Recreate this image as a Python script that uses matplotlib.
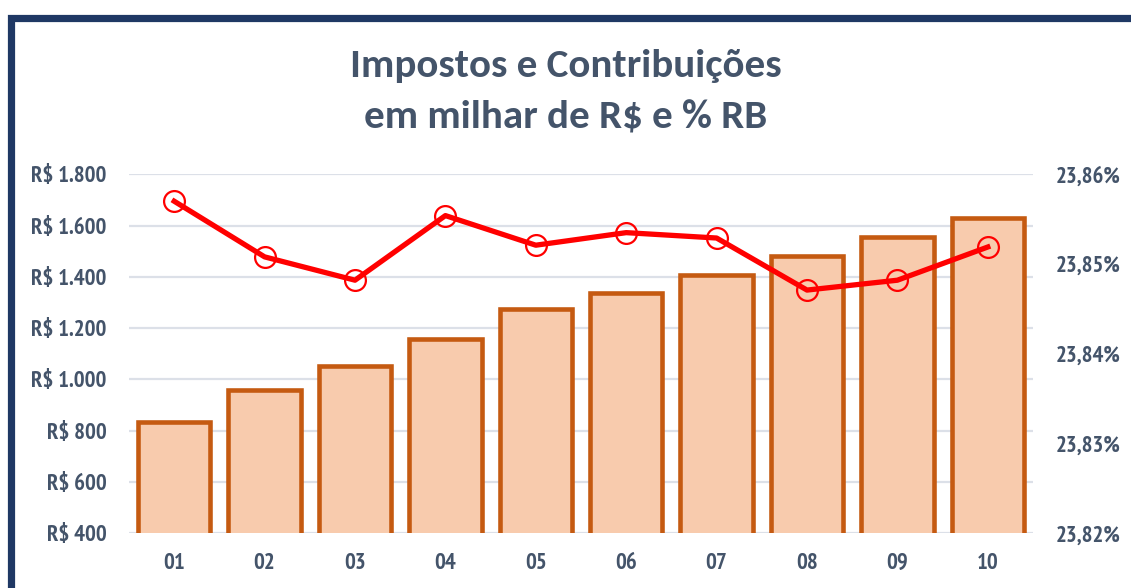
import matplotlib
matplotlib.use("Agg")
import matplotlib.pyplot as plt
from matplotlib import font_manager
from matplotlib.patches import Rectangle
from matplotlib.ticker import FuncFormatter, MultipleLocator

categories = ["01", "02", "03", "04", "05", "06", "07", "08", "09", "10"]
impostos = [834, 960, 1051, 1158, 1275, 1338, 1409, 1480, 1555, 1630]
pct_rb = [23.8570, 23.8508, 23.8482, 23.8554, 23.8521, 23.8535, 23.8529, 23.8471, 23.8482, 23.8519]
title_lines = ["Impostos e Contribuições", "em milhar de R$ e % RB"]

bold_names = {f.name for f in font_manager.fontManager.ttflist
              if isinstance(f.weight, int) and f.weight >= 600}
all_names = {f.name for f in font_manager.fontManager.ttflist}


def pick(cands):
    for c, s in cands:
        if c in bold_names:
            return c, s
    return cands[-1]


tick_font, tick_size = pick([("Liberation Sans Narrow", 16), ("Arial Narrow", 16),
                             ("Archivo Narrow", 16), ("PT Sans Narrow", 16.5),
                             ("Roboto Condensed", 15.5), ("Open Sans Condensed", 15),
                             ("Liberation Sans", 12.5)])
title_font, title_size = pick([("Carlito", 29.5), ("Calibri", 29.5), ("Open Sans", 25)])

TXT = "#44546A"
W, H = 1131, 588
fig = plt.figure(figsize=(W / 100, H / 100), dpi=100)
fig.patch.set_facecolor("white")

# frame
fig.patches.append(Rectangle((10.8 / W, -0.2), 1.3, 1.2 - 17.5 / H, transform=fig.transFigure,
                             fill=False, edgecolor="#1F3864", linewidth=5.2, zorder=0))

ax = fig.add_axes([129 / W, 1 - 533.3 / H, (1033 - 129) / W, (533.3 - 174.3) / H])
ax2 = ax.twinx()
ax.set_zorder(1)
ax2.set_zorder(2)
ax.patch.set_visible(False)

x = list(range(len(categories)))
ax.bar(x, impostos, width=0.8, color="#F8CBAD", edgecolor="#C55A11", linewidth=3.3, zorder=3)
ax.set_ylim(400, 1800)
ax.set_xlim(-0.5, len(categories) - 0.5)
ax.yaxis.set_major_locator(MultipleLocator(200))
ax.yaxis.set_major_formatter(FuncFormatter(lambda v, p: "R$ " + f"{int(v):,}".replace(",", ".")))
ax.grid(axis="y", color="#DCE0E8", linewidth=1.6, zorder=0)
ax.set_axisbelow(True)
ax.set_xticks(x)
ax.set_xticklabels(categories)

ax2.plot(x, pct_rb, color="#FF0000", linewidth=3.8, marker="o", markersize=15,
         markerfacecolor="none", markeredgecolor="#FF0000", markeredgewidth=1.6, zorder=4)
ax2.set_ylim(23.82, 23.86)
ax2.yaxis.set_major_locator(MultipleLocator(0.01))
ax2.yaxis.set_major_formatter(FuncFormatter(lambda v, p: f"{v:.2f}%".replace(".", ",")))

for a in (ax, ax2):
    for s in a.spines.values():
        s.set_visible(False)
    a.tick_params(length=0, colors=TXT, labelsize=tick_size)
    for lab in a.get_xticklabels() + a.get_yticklabels():
        lab.set_fontfamily(tick_font)
        lab.set_fontweight("bold")
        lab.set_color(TXT)
ax.tick_params(axis="y", pad=16)
ax.tick_params(axis="x", pad=14)
ax2.tick_params(axis="y", pad=16)

fig.text(0.5, 1 - 66 / H, title_lines[0], ha="center", va="center", fontsize=title_size,
         fontweight="bold", color=TXT, family=title_font)
fig.text(0.5, 1 - 117 / H, title_lines[1], ha="center", va="center", fontsize=title_size,
         fontweight="bold", color=TXT, family=title_font)

fig.savefig("out.png", dpi=100, facecolor="white")
